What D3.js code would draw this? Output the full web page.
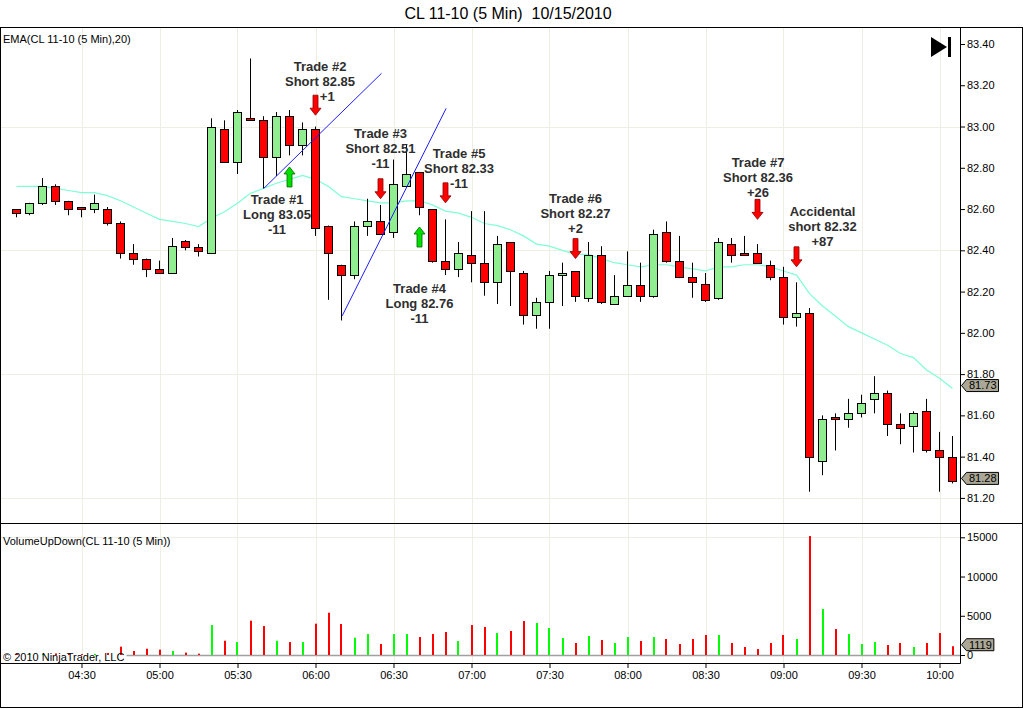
<!DOCTYPE html>
<html><head><meta charset="utf-8">
<script src="https://cdn.jsdelivr.net/npm/d3@7"></script>
<style>
html,body{margin:0;padding:0;background:#fff;overflow:hidden;}
svg{display:block;font-family:"Liberation Sans",Arial,sans-serif;}
</style></head><body>
<svg id="c" width="1024" height="709"></svg>
<script>
// ---------------- DATA ----------------
const times = [
 "04:05","04:10","04:15","04:20","04:25","04:30","04:35","04:40","04:45","04:50","04:55",
 "05:00","05:05","05:10","05:15","05:20","05:25","05:30","05:35","05:40","05:45","05:50","05:55",
 "06:00","06:05","06:10","06:15","06:20","06:25","06:30","06:35","06:40","06:45","06:50","06:55",
 "07:00","07:05","07:10","07:15","07:20","07:25","07:30","07:35","07:40","07:45","07:50","07:55",
 "08:00","08:05","08:10","08:15","08:20","08:25","08:30","08:35","08:40","08:45","08:50","08:55",
 "09:00","09:05","09:10","09:15","09:20","09:25","09:30","09:35","09:40","09:45","09:50","09:55",
 "10:00","10:05"];
const opens = [
 82.60,82.58,82.63,82.71,82.64,82.61,82.60,82.60,82.53,82.385,82.36,
 82.31,82.29,82.445,82.415,82.385,82.99,82.83,83.04,83.03,82.85,83.05,82.91,
 82.99,82.52,82.33,82.28,82.52,82.54,82.49,82.71,82.78,82.60,82.35,82.31,
 82.375,82.34,82.245,82.44,82.29,82.085,82.15,82.28,82.30,82.17,82.375,82.14,
 82.18,82.23,82.18,82.49,82.35,82.27,82.235,82.17,82.43,82.385,82.385,82.33,
 82.27,82.075,82.095,81.38,81.59,81.58,81.61,81.68,81.71,81.56,81.55,81.62,
 81.43,81.40];
const highs = [
 82.60,82.63,82.75,82.72,82.64,82.61,82.67,82.61,82.54,82.43,82.36,
 82.35,82.46,82.45,82.43,83.04,83.03,83.08,83.33,83.05,83.07,83.08,83.02,
 83.00,82.52,82.33,82.54,82.65,82.62,82.84,82.91,82.78,82.60,82.55,82.44,
 82.59,82.59,82.47,82.44,82.30,82.17,82.30,82.34,82.30,82.44,82.42,82.28,
 82.395,82.34,82.50,82.54,82.47,82.34,82.29,82.46,82.46,82.47,82.43,82.35,
 82.32,82.245,82.12,81.60,81.61,81.68,81.70,81.79,81.72,81.61,81.62,81.68,
 81.52,81.50];
const lows = [
 82.56,82.57,82.62,82.62,82.57,82.56,82.58,82.52,82.36,82.33,82.27,
 82.29,82.29,82.40,82.37,82.385,82.83,82.77,83.03,82.70,82.76,82.86,82.86,
 82.47,82.16,82.06,82.26,82.47,82.48,82.46,82.71,82.57,82.34,82.28,82.27,
 82.245,82.18,82.14,82.13,82.04,82.02,82.02,82.13,82.15,82.15,82.14,82.14,
 82.18,82.15,82.17,82.34,82.265,82.17,82.15,82.16,82.34,82.375,82.335,82.255,
 82.04,82.03,81.23,81.31,81.43,81.54,81.59,81.61,81.50,81.46,81.42,81.42,
 81.23,81.27];
const closes = [
 82.58,82.63,82.71,82.64,82.60,82.60,82.63,82.53,82.385,82.36,82.31,
 82.29,82.42,82.415,82.395,83.00,82.83,83.07,83.03,82.85,83.05,82.91,82.99,
 82.51,82.385,82.28,82.52,82.54,82.48,82.72,82.77,82.61,82.35,82.31,82.385,
 82.34,82.245,82.43,82.30,82.085,82.15,82.28,82.29,82.18,82.375,82.15,82.18,
 82.23,82.18,82.48,82.35,82.27,82.245,82.16,82.44,82.375,82.375,82.34,82.27,
 82.075,82.095,81.40,81.58,81.58,81.61,81.66,81.71,81.56,81.54,81.61,81.43,
 81.40,81.28];
const emaValues = [
 82.71,82.71,82.71,82.70,82.69,82.68,82.68,82.665,82.64,82.61,82.58,
 82.55,82.54,82.53,82.515,82.555,82.587,82.628,82.676,82.70,82.725,82.744,82.763,
 82.744,82.709,82.66,82.65,82.64,82.63,82.63,82.64,82.64,82.62,82.59,82.58,
 82.56,82.53,82.52,82.50,82.47,82.43,82.42,82.40,82.38,82.38,82.36,82.34,
 82.33,82.32,82.33,82.33,82.32,82.31,82.30,82.32,82.32,82.33,82.33,82.32,
 82.30,82.28,82.19,82.13,82.08,82.03,82.00,81.97,81.94,81.90,81.88,81.82,
 81.78,81.73];
const volumes = [
 120,100,150,200,150,120,150,250,1060,510,800,
 680,510,300,170,3820,1820,1650,4370,3690,1820,1650,1650,
 3990,5390,3950,2200,2670,1400,2670,2670,2290,2670,2930,1780,
 3820,3570,2800,3060,4330,4080,3440,2170,1530,2420,1910,1530,
 2290,1780,2290,2040,1400,2040,2550,2550,1530,1020,760,1530,
 2550,2040,15160,5860,3310,2670,1400,1650,1270,1530,1020,1530,
 2800,1119];
const priceTicks = [81.2,81.4,81.6,81.8,82.0,82.2,82.4,82.6,82.8,83.0,83.2,83.4];
const priceGrid = [83.0,82.4,81.8,81.2];
const volumeTicks = [0,5000,10000,15000];
const volumeGrid = [15000];
const timeTicks = ["04:30","05:00","05:30","06:00","06:30","07:00","07:30","08:00","08:30","09:00","09:30","10:00"];
const titleText = "CL 11-10 (5 Min)\u00a0\u00a010/15/2010";
const emaLabel = "EMA(CL 11-10 (5 Min),20)";
const volumeLabel = "VolumeUpDown(CL 11-10 (5 Min))";
const copyrightText = "\u00a9 2010 NinjaTrader, LLC";
const trendLines = [
 {from:"05:40:06", p1:82.70, to:"06:25:24", p2:83.258},
 {from:"06:10:15", p1:82.082, to:"06:50:15", p2:83.088}
];
const tradeArrows = [
 {time:"05:50", price:82.804, dir:"up"},
 {time:"06:00", price:83.055, dir:"down"},
 {time:"06:25", price:82.65, dir:"down"},
 {time:"06:40", price:82.513, dir:"up"},
 {time:"06:50", price:82.63, dir:"down"},
 {time:"07:40", price:82.36, dir:"down"},
 {time:"08:50", price:82.55, dir:"down"},
 {time:"09:05", price:82.32, dir:"down"}
];
const tradeLabels = [
 {time:"05:45:12", price:82.624, lines:["Trade #1","Long 83.05","-11"]},
 {time:"06:01:45", price:83.27, lines:["Trade #2","Short 82.85","\u00a0\u00a0\u00a0\u00a0+1"]},
 {time:"06:25:00", price:82.944, lines:["Trade #3","Short 82.51","-11"]},
 {time:"06:40:00", price:82.193, lines:["Trade #4","Long 82.76","-11"]},
 {time:"06:55:12", price:82.847, lines:["Trade #5","Short 82.33","-11"]},
 {time:"07:40:00", price:82.629, lines:["Trade #6","Short 82.27","+2"]},
 {time:"08:50:12", price:82.804, lines:["Trade #7","Short 82.36","+26"]},
 {time:"09:15:00", price:82.566, lines:["Accidental","short 82.32","+87"]}
];

// ---------------- CHART ----------------
const parse = s => { const p = s.split(":").map(Number); return new Date(2010,9,15,p[0],p[1],p[2]||0); };
const bars = times.map((t,i)=>({t:parse(t),o:opens[i],h:highs[i],l:lows[i],c:closes[i],e:emaValues[i],v:volumes[i]}));

const svg = d3.select("#c");
const FONT = "'Liberation Sans',Arial,sans-serif";
const gridColor = "#efeee3";
const upFill = "#90ee90", downFill = "#ff0000";

const x = d3.scaleTime().domain(d3.extent(bars,d=>d.t)).range([16.5, 952.5]);
const y = d3.scaleLinear().domain([81.2, 83.4]).range([497.9, 44]);
const yv = d3.scaleLinear().domain([0, 15000]).range([655, 537.3]);

const AX = 960, TOP = 28, SEP = 523, XAX = 663;

// title
svg.append("text").attr("x",508).attr("y",19).attr("text-anchor","middle")
  .attr("font-size",16).attr("font-family",FONT).attr("fill","#000").text(titleText);

// gridlines
const grid = svg.append("g").attr("stroke",gridColor).attr("stroke-width",1);
grid.selectAll("line.v").data(timeTicks).join("line")
  .attr("x1",d=>Math.round(x(parse(d)))+0.5).attr("x2",d=>Math.round(x(parse(d)))+0.5)
  .attr("y1",TOP).attr("y2",XAX);
grid.selectAll("line.hp").data(priceGrid).join("line")
  .attr("x1",1).attr("x2",AX).attr("y1",d=>Math.round(y(d))+0.5).attr("y2",d=>Math.round(y(d))+0.5);
grid.selectAll("line.hv").data(volumeGrid).join("line")
  .attr("x1",1).attr("x2",AX).attr("y1",d=>Math.round(yv(d))+0.5).attr("y2",d=>Math.round(yv(d))+0.5);

// EMA
svg.append("path").datum(bars)
  .attr("d", d3.line().x(d=>x(d.t)).y(d=>y(d.e)))
  .attr("fill","none").attr("stroke","#7fffd4").attr("stroke-width",1.2);

// candles
const cg = svg.append("g");
cg.selectAll("line.w").data(bars).join("line")
  .attr("x1",d=>x(d.t)).attr("x2",d=>x(d.t))
  .attr("y1",d=>y(d.h)).attr("y2",d=>y(d.l))
  .attr("stroke","#000").attr("stroke-width",1);
cg.selectAll("rect").data(bars).join("rect")
  .attr("x",d=>x(d.t)-4).attr("width",8)
  .attr("y",d=>Math.round(y(Math.max(d.o,d.c)))+0.5)
  .attr("height",d=>Math.max(1, Math.round(y(Math.min(d.o,d.c))) - Math.round(y(Math.max(d.o,d.c)))))
  .attr("fill",d=>d.c>=d.o?upFill:downFill)
  .attr("stroke","#000").attr("stroke-width",1);

// trend lines
svg.selectAll("line.tl").data(trendLines).join("line")
  .attr("x1",d=>x(parse(d.from))).attr("y1",d=>y(d.p1))
  .attr("x2",d=>x(parse(d.to))).attr("y2",d=>y(d.p2))
  .attr("stroke","#1f1fff").attr("stroke-width",1);

// arrows
function arrowPath(cx, tip, dir){
  const L=20, sw=2.5, hw=5.5, hl=7;
  const base = tip - (dir==="down"?L:-L);
  const neck = tip - (dir==="down"?hl:-hl);
  return `M${cx-sw},${base} L${cx+sw},${base} L${cx+sw},${neck} L${cx+hw},${neck} L${cx},${tip} L${cx-hw},${neck} L${cx-sw},${neck} Z`;
}
svg.selectAll("path.arrow").data(tradeArrows).join("path")
  .attr("d",d=>arrowPath(x(parse(d.time)), y(d.price), d.dir))
  .attr("fill",d=>d.dir==="down"?"#ff0000":"#00e000")
  .attr("stroke",d=>d.dir==="down"?"#8b0000":"#006400").attr("stroke-width",0.8);

// trade labels
const lg = svg.append("g").attr("font-family",FONT).attr("font-size",13).attr("font-weight","bold")
  .attr("fill","#2e2e2e").attr("text-anchor","middle");
tradeLabels.forEach(d=>{
  const cx = x(parse(d.time)), by = y(d.price);
  d.lines.forEach((ln,k)=>{
    lg.append("text").attr("x",cx).attr("y",by+k*15).text(ln);
  });
});

// volume zero line
svg.append("line").attr("x1",1).attr("x2",AX).attr("y1",655.5).attr("y2",655.5)
  .attr("stroke","#a0a0a0").attr("stroke-width",1.5);

// copyright background (width set after text is measured)
const cpBg = svg.append("rect").attr("x",1).attr("y",654).attr("height",8).attr("fill","#fff");

// volume bars
svg.append("g").selectAll("rect").data(bars).join("rect")
  .attr("x",d=>Math.round(x(d.t))-1).attr("width",2)
  .attr("y",d=>yv(d.v)).attr("height",d=>yv(0)-yv(d.v))
  .attr("fill",d=>d.c>=d.o?"#00ff00":"#ff0000");

const cp = svg.append("text").attr("x",3).attr("y",661).attr("font-size",11).attr("font-family",FONT)
  .attr("fill","#000").text(copyrightText);
cpBg.attr("width", cp.node().getComputedTextLength()+4);

// panel labels
svg.append("text").attr("x",3).attr("y",43).attr("font-size",11).attr("font-family",FONT).text(emaLabel);
svg.append("text").attr("x",3).attr("y",545).attr("font-size",11).attr("font-family",FONT).text(volumeLabel);

// frame
svg.append("rect").attr("x",0.5).attr("y",27.5).attr("width",1022).attr("height",680)
  .attr("fill","none").attr("stroke","#000");
svg.append("line").attr("x1",0).attr("x2",1023).attr("y1",SEP+0.5).attr("y2",SEP+0.5).attr("stroke","#000");
svg.append("line").attr("x1",AX+0.5).attr("x2",AX+0.5).attr("y1",TOP).attr("y2",XAX+0.5).attr("stroke","#000");
svg.append("line").attr("x1",0).attr("x2",AX+0.5).attr("y1",XAX+0.5).attr("y2",XAX+0.5).attr("stroke","#000");

// axes
function styleAxis(g){
  g.select(".domain").remove();
  g.attr("font-family",FONT).attr("font-size",11);
  g.selectAll("text").attr("fill","#000");
  g.selectAll("line").attr("stroke","#000");
}
svg.append("g").attr("transform",`translate(${AX},0)`)
  .call(d3.axisRight(y).tickValues(priceTicks).tickSize(5).tickPadding(2).tickFormat(d3.format(".2f")))
  .call(styleAxis);
svg.append("g").attr("transform",`translate(${AX},0)`)
  .call(d3.axisRight(yv).tickValues(volumeTicks).tickSize(5).tickPadding(2).tickFormat(d3.format("d")))
  .call(styleAxis);
svg.append("g").attr("transform",`translate(0,${XAX})`)
  .call(d3.axisBottom(x).tickValues(timeTicks.map(parse)).tickSize(5).tickPadding(3).tickFormat(d3.timeFormat("%H:%M")))
  .call(styleAxis);

// last-value tags
function tag(yc, label){
  const g = svg.append("g");
  const p = g.append("path");
  const t = g.append("text").attr("x",969).attr("y",yc).attr("dy","0.35em")
    .attr("font-size",11).attr("font-family",FONT).attr("fill","#000").text(label);
  const w = t.node().getComputedTextLength();
  const r = 969 + w + 2;
  p.attr("d",`M${AX+1.5},${yc} L${AX+6.5},${yc-6} L${r},${yc-6} L${r},${yc+6} L${AX+6.5},${yc+6} Z`)
    .attr("fill","#aba796").attr("stroke","#000").attr("stroke-width",1);
}
const last = bars[bars.length-1];
tag(y(last.e)-3, d3.format(".2f")(last.e));
tag(y(last.c)-3, d3.format(".2f")(last.c));
tag(yv(last.v)-1.5, String(last.v));

// "go to end" icon
svg.append("path").attr("d","M931,37 L931,57 L947,47 Z").attr("fill","#000");
svg.append("rect").attr("x",948).attr("y",37).attr("width",3).attr("height",20).attr("fill","#000");
</script>
</body></html>
